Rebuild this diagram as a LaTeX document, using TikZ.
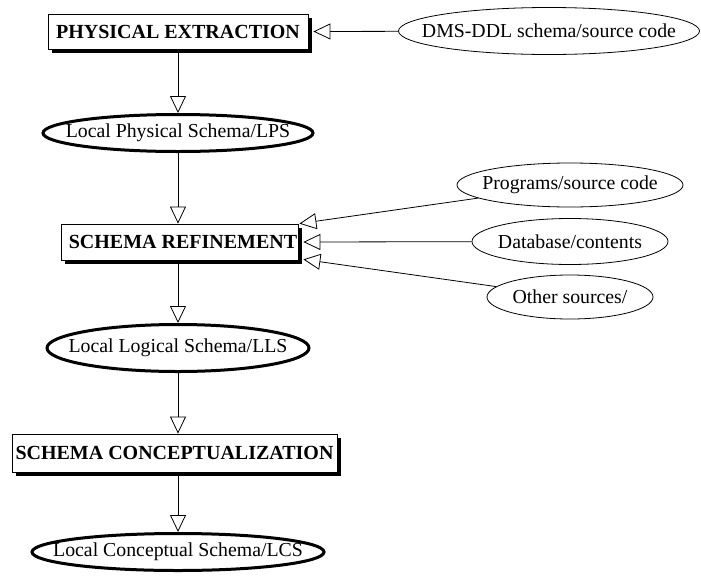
\documentclass[tikz,border=0pt]{standalone}
\usepackage{fontspec}
\setmainfont{Liberation Serif}
\usetikzlibrary{shapes.geometric,arrows.meta}
% text of zero width, so an ellipse keeps exactly its minimum size
\newcommand{\nowidth}[1]{\makebox[0pt]{#1}}
\begin{document}
\begin{tikzpicture}[x=1pt,y=-1pt,
  font=\fontsize{19.8}{23}\selectfont,
  procbox/.style={draw, fill=white, line width=0.8pt, inner sep=0pt,
    font=\fontsize{20}{23}\selectfont\bfseries},
  shadowbox/.style={fill=black, inner sep=0pt},
  product/.style={ellipse, draw, fill=white, line width=3pt, inner sep=0pt},
  source/.style={ellipse, draw, fill=white, line width=0.8pt, inner sep=0pt},
  flow/.style={line width=0.8pt, -{Triangle[open, length=17pt, width=16pt, line width=0.8pt, fill=white]}}]
\useasboundingbox (0,0) rectangle (701,581);

% process boxes, each with a solid black drop shadow
\node[shadowbox, minimum width=260, minimum height=35] at (182,35.5) {};
\node[procbox, minimum width=260, minimum height=35] (pe) at (178,31.5) {PHYSICAL EXTRACTION};

\node[shadowbox, minimum width=237, minimum height=36] at (183.5,246) {};
\node[procbox, minimum width=237, minimum height=36] (sr) at (179.5,242) {\hspace*{7pt}SCHEMA REFINEMENT};

\node[shadowbox, minimum width=325, minimum height=38] at (178.5,457) {};
\node[procbox, minimum width=325, minimum height=38] (sc) at (174.5,453) {SCHEMA CONCEPTUALIZATION};

% schemas produced by each step
\node[product, minimum width=270, minimum height=37] (lps) at (178,133) {\nowidth{Local Physical Schema/LPS}};
\node[product, minimum width=262, minimum height=47] (lls) at (178,348) {\nowidth{Local Logical Schema/LLS}};
\node[product, minimum width=292, minimum height=37] (lcs) at (178,552) {\nowidth{Local Conceptual Schema/LCS}};

% information sources
\node[source, minimum width=301, minimum height=47] (ddl) at (549,31) {\nowidth{DMS-DDL schema/source code}};
\node[source, minimum width=226, minimum height=44] (prog) at (570,185) {\nowidth{Programs/source code}};
\node[source, minimum width=196, minimum height=46] (db) at (570,241.5) {\nowidth{Database/contents}};
\node[source, minimum width=166, minimum height=44] (other) at (570,297) {\nowidth{Other sources/}};

% main flow, kept on one vertical axis
\draw[flow] (pe.south) -- (lps.north);
\draw[flow] (lps.south) -- (lps.south |- sr.north);
\draw[flow] (lls.north |- sr.south) -- (lls.north);
\draw[flow] (lls.south) -- (lls.south |- sc.north);
\draw[flow] (lcs.north |- sc.south) -- (lcs.north);

% inputs
\draw[flow] (ddl) -- ([xshift=5pt]pe.east);
\draw[flow] (prog) -- ([xshift=1pt]sr.north east);
\draw[flow] (db) -- ([xshift=5pt]sr.east);
\draw[flow] (other) -- ([xshift=5pt,yshift=1pt]sr.south east);
\end{tikzpicture}
\end{document}
